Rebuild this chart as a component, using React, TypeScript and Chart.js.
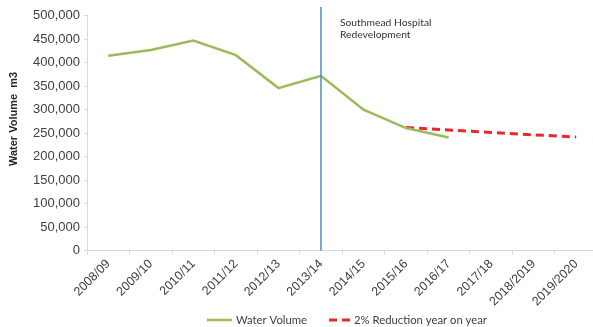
import React, { useEffect, useRef } from "react";
import { Chart, registerables } from "chart.js";

Chart.register(...registerables);

// Financial years on the category axis
const years = [
  "2008/09",
  "2009/10",
  "2010/11",
  "2011/12",
  "2012/13",
  "2013/14",
  "2014/15",
  "2015/16",
  "2016/17",
  "2017/18",
  "2018/2019",
  "2019/2020",
];

// Measured annual water volume (m3)
const waterVolume: (number | null)[] = [
  415000, 427000, 447000, 416000, 346000, 372000, 300000, 261000, 241000, null, null, null,
];

// Target path: 2% reduction each year from 2015/16
const reductionTarget: (number | null)[] = [
  null, null, null, null, null, null, null, 262000, 256800, 251600, 246600, 241700,
];

const yMax = 500000;
const yStep = 50000;

const markerYear = "2013/14";
const markerLines = ["Southmead Hospital", "Redevelopment"];
const axisTitle = "Water Volume  m3";
const legendNames = ["Water Volume", "2% Reduction year on year"];

const GREEN = "#9bbb59";
const RED = "#e8262b";
const BLUE = "#4a8fc4";
const AXIS = "#d9d9d9";
const TEXT = "#404040";

const overlay = {
  id: "overlay",
  afterDatasetsDraw(chart: any) {
    const { ctx, chartArea, scales } = chart;
    const x = scales.x.getPixelForValue(years.indexOf(markerYear));

    ctx.save();
    // redevelopment marker
    ctx.strokeStyle = BLUE;
    ctx.lineWidth = 1.5;
    ctx.beginPath();
    ctx.moveTo(x, 7);
    ctx.lineTo(x, chartArea.bottom);
    ctx.stroke();

    ctx.fillStyle = "#333333";
    ctx.font = '10.3px Lato';
    ctx.textAlign = "left";
    ctx.textBaseline = "middle";
    ctx.fillText(markerLines[0], x + 19, 22.7);
    ctx.fillText(markerLines[1], x + 19, 34.6);

    // y axis title
    ctx.save();
    ctx.translate(14, 119);
    ctx.rotate(-Math.PI / 2);
    ctx.font = 'bold 11px "Liberation Sans"';
    ctx.textAlign = "center";
    ctx.fillStyle = "#262626";
    ctx.fillText(axisTitle, 0, 0);
    ctx.restore();

    // legend
    const ly = 320;
    ctx.font = '11.3px Lato';
    ctx.fillStyle = TEXT;
    let lx = 207;
    chart.data.datasets.forEach((ds: any, i: number) => {
      const lineLen = i === 0 ? 25 : 21;
      ctx.strokeStyle = ds.borderColor;
      ctx.lineWidth = ds.borderWidth;
      ctx.setLineDash(ds.borderDash || []);
      ctx.beginPath();
      ctx.moveTo(lx, ly);
      ctx.lineTo(lx + lineLen, ly);
      ctx.stroke();
      ctx.setLineDash([]);
      const tx = lx + lineLen + 4;
      ctx.fillText(legendNames[i], tx, ly);
      lx = tx + ctx.measureText(legendNames[i]).width + 22;
    });
    ctx.restore();
  },
};

export default function App() {
  const canvasRef = useRef<HTMLCanvasElement | null>(null);

  useEffect(() => {
    if (!canvasRef.current) return;
    const chart = new Chart(canvasRef.current, {
      type: "line",
      data: {
        labels: years,
        datasets: [
          {
            label: legendNames[0],
            data: waterVolume,
            borderColor: GREEN,
            backgroundColor: GREEN,
            borderWidth: 2.5,
            pointRadius: 0,
            tension: 0,
            spanGaps: false,
          },
          {
            label: legendNames[1],
            data: reductionTarget,
            borderColor: RED,
            backgroundColor: RED,
            borderWidth: 3,
            borderDash: [8, 5],
            pointRadius: 0,
            tension: 0,
          },
        ],
      },
      options: {
        animation: false,
        responsive: true,
        maintainAspectRatio: false,
        layout: { padding: { top: 15.7, right: 2.5, left: 0, bottom: 0 } },
        plugins: {
          legend: { display: false },
          tooltip: { enabled: false },
        },
        scales: {
          x: {
            offset: true,
            afterFit: (s: any) => {
              s.height = 76.3;
            },
            border: { display: true, color: AXIS, width: 1 },
            grid: { drawOnChartArea: false, drawTicks: true, tickLength: 4, color: AXIS, offset: true },
            ticks: {
              autoSkip: false,
              maxRotation: 45,
              minRotation: 45,
              padding: 2,
              color: TEXT,
              font: { family: '"Liberation Sans", Arial, sans-serif', size: 12.5 },
            },
          },
          y: {
            min: 0,
            max: yMax,
            afterFit: (s: any) => {
              s.width = 87;
            },
            border: { display: true, color: AXIS, width: 1 },
            grid: { drawOnChartArea: false, drawTicks: true, tickLength: 3, color: AXIS },
            ticks: {
              stepSize: yStep,
              padding: 4,
              color: TEXT,
              font: { family: '"Liberation Sans", Arial, sans-serif', size: 13 },
              callback: (v: any) => Number(v).toLocaleString("en-US"),
            },
          },
        },
      },
      plugins: [overlay],
    });
    return () => chart.destroy();
  }, []);

  return (
    <div style={{ position: "fixed", left: 0, top: 0, width: 593, height: 327, overflow: "hidden", background: "#fff" }}>
      <div style={{ position: "relative", width: 600, height: 327 }}>
        <canvas ref={canvasRef} />
      </div>
    </div>
  );
}
